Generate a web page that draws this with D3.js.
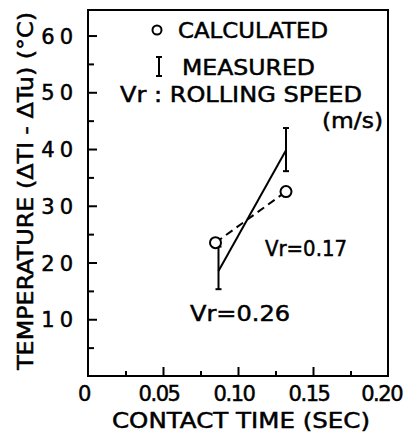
<!DOCTYPE html>
<html>
<head>
<meta charset="utf-8">
<script src="https://cdn.jsdelivr.net/npm/d3@7"></script>
<style>
  body { margin: 0; background: #fff; }
  text { font-family: "DejaVu Sans", sans-serif; fill: #000; stroke: #000; stroke-width: 0.5px; }
</style>
</head>
<body>
<svg id="chart" width="404" height="432"></svg>
<script>
// values
const calcTime = [0.085, 0.132];
const calcTemp = [23.5, 32.5];
const measTime = [0.087, 0.132];
const measTemp = [18.5, 39.8];
const measLow = [15.3, 36.1];
const measHigh = [22.8, 43.7];
const xTicks = [0, 0.05, 0.10, 0.15, 0.20];
const xTickLabels = ["0", "0.05", "0.10", "0.15", "0.20"];
const xMinor = [0.025, 0.075, 0.125, 0.175];
const yTicks = [10, 20, 30, 40, 50, 60];
const yMinor = [5, 15, 25, 35, 45, 55];
const speedLabels = ["Vr=0.26", "Vr=0.17"];

const svg = d3.select("#chart");
const mLeft = 88, mRight = 388, mTop = 10, mBottom = 376;

const x = d3.scaleLinear().domain([0, 0.2]).range([mLeft, mRight]);
const y = d3.scaleLinear().domain([0, 64.5]).range([mBottom, mTop]);

// frame
svg.append("rect")
  .attr("x", mLeft).attr("y", mTop)
  .attr("width", mRight - mLeft).attr("height", mBottom - mTop)
  .attr("fill", "none").attr("stroke", "#000").attr("stroke-width", 2);

// x ticks (inward)
svg.append("g").attr("transform", `translate(0,${mBottom})`)
  .call(d3.axisBottom(x).tickValues(xTicks.slice(1, 4)).tickSize(-9).tickFormat(""))
  .call(g => g.select(".domain").remove());
svg.append("g").attr("transform", `translate(0,${mBottom})`)
  .call(d3.axisBottom(x).tickValues(xMinor).tickSize(-5).tickFormat(""))
  .call(g => g.select(".domain").remove());

// y ticks (inward)
svg.append("g").attr("transform", `translate(${mLeft},0)`)
  .call(d3.axisLeft(y).tickValues(yTicks).tickSize(-9).tickFormat(""))
  .call(g => g.select(".domain").remove());
svg.append("g").attr("transform", `translate(${mLeft},0)`)
  .call(d3.axisLeft(y).tickValues(yMinor).tickSize(-6).tickFormat(""))
  .call(g => g.select(".domain").remove());
svg.selectAll(".tick line").attr("stroke-width", 2);

// tick labels
svg.selectAll(".xlab").data(xTicks).enter().append("text")
  .attr("x", (d, i) => i === xTicks.length - 1 ? 402 : x(d) - 4).attr("y", 401)
  .attr("text-anchor", (d, i) => i === xTicks.length - 1 ? "end" : "middle")
  .attr("font-size", 21).attr("letter-spacing", -1.5)
  .text((d, i) => xTickLabels[i]);
svg.selectAll(".ylab").data(yTicks).enter().append("text")
  .attr("x", 78).attr("y", d => y(d) + 8)
  .attr("text-anchor", "end").attr("font-size", 21)
  .attr("letter-spacing", 5)
  .text(d => d);

// axis titles
svg.append("text").attr("x", 112).attr("y", 428)
  .attr("font-size", 21).attr("textLength", 258).attr("lengthAdjust", "spacingAndGlyphs")
  .text("CONTACT   TIME (SEC)");
svg.append("text")
  .attr("transform", "translate(33,370) rotate(-90)")
  .attr("font-size", 22).attr("textLength", 358).attr("lengthAdjust", "spacingAndGlyphs")
  .text("TEMPERATURE (\u0394Tl - \u0394Tu) (\u00B0C)");

// lines
svg.append("line")
  .attr("x1", x(measTime[0])).attr("y1", y(measTemp[0]))
  .attr("x2", x(measTime[1])).attr("y2", y(measTemp[1]))
  .attr("stroke", "#000").attr("stroke-width", 2);
svg.append("line")
  .attr("x1", x(calcTime[0])).attr("y1", y(calcTemp[0]))
  .attr("x2", x(calcTime[1])).attr("y2", y(calcTemp[1]))
  .attr("stroke", "#000").attr("stroke-width", 2).attr("stroke-dasharray", "8,5");

// error bars
measTime.forEach((t, i) => {
  const g = svg.append("g").attr("stroke", "#000").attr("stroke-width", 2);
  g.append("line").attr("x1", x(t)).attr("x2", x(t)).attr("y1", y(measLow[i])).attr("y2", y(measHigh[i]));
  g.append("line").attr("x1", x(t) - 3).attr("x2", x(t) + 3).attr("y1", y(measLow[i])).attr("y2", y(measLow[i]));
  g.append("line").attr("x1", x(t) - 3).attr("x2", x(t) + 3).attr("y1", y(measHigh[i])).attr("y2", y(measHigh[i]));
});

// calculated circles
svg.selectAll(".calc").data(calcTime).enter().append("circle")
  .attr("cx", d => x(d)).attr("cy", (d, i) => y(calcTemp[i]))
  .attr("r", 5.5).attr("fill", "#fff").attr("stroke", "#000").attr("stroke-width", 2);

// point labels
svg.append("text").attr("x", 190).attr("y", 321).attr("font-size", 21)
  .attr("textLength", 100).attr("lengthAdjust", "spacingAndGlyphs").text(speedLabels[0]);
svg.append("text").attr("x", 265).attr("y", 256).attr("font-size", 21)
  .attr("textLength", 82).attr("lengthAdjust", "spacingAndGlyphs").text(speedLabels[1]);

// legend
svg.append("circle").attr("cx", 157).attr("cy", 30).attr("r", 4.5)
  .attr("fill", "none").attr("stroke", "#000").attr("stroke-width", 2);
svg.append("text").attr("x", 178).attr("y", 38).attr("font-size", 21)
  .attr("textLength", 150).attr("lengthAdjust", "spacingAndGlyphs").text("CALCULATED");
const lg = svg.append("g").attr("stroke", "#000").attr("stroke-width", 2);
lg.append("line").attr("x1", 159).attr("x2", 159).attr("y1", 57).attr("y2", 76);
lg.append("line").attr("x1", 156).attr("x2", 162).attr("y1", 57).attr("y2", 57);
lg.append("line").attr("x1", 156).attr("x2", 162).attr("y1", 76).attr("y2", 76);
svg.append("text").attr("x", 182).attr("y", 75).attr("font-size", 21)
  .attr("textLength", 133).attr("lengthAdjust", "spacingAndGlyphs").text("MEASURED");
svg.append("text").attr("x", 120).attr("y", 102).attr("font-size", 21)
  .attr("textLength", 242).attr("lengthAdjust", "spacingAndGlyphs").text("Vr : ROLLING SPEED");
svg.append("text").attr("x", 322).attr("y", 128).attr("font-size", 21)
  .attr("textLength", 61).attr("lengthAdjust", "spacingAndGlyphs").text("(m/s)");
</script>
</body>
</html>
